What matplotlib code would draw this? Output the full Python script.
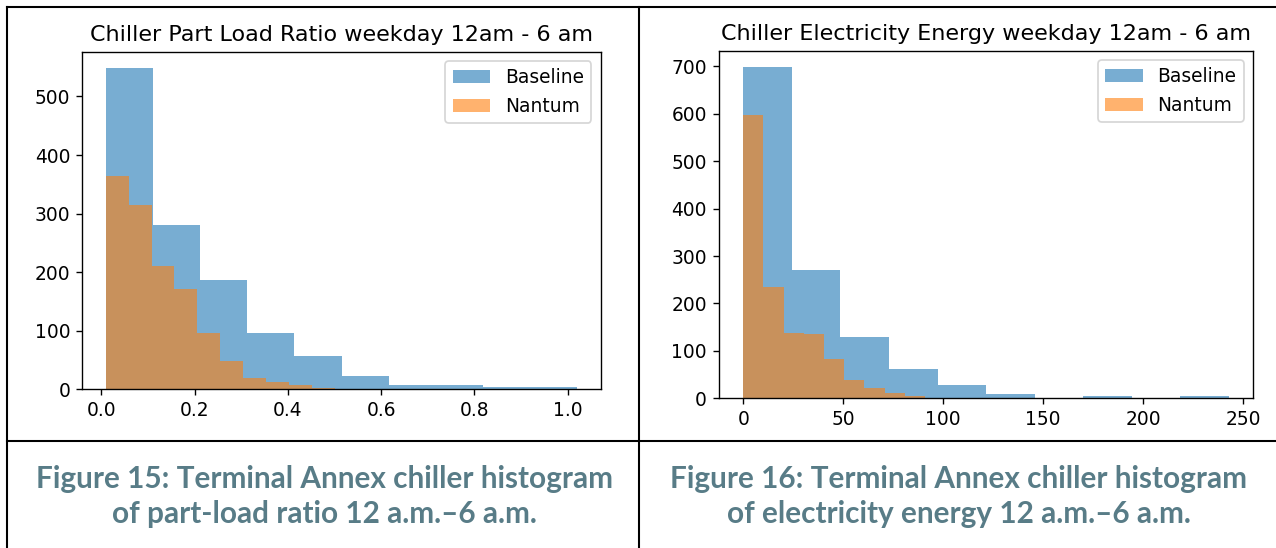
import numpy as np
import matplotlib
matplotlib.use("Agg")
import matplotlib.pyplot as plt
from matplotlib.lines import Line2D

# left panel: part load ratio histograms (bin edges + counts)
plr_base_edges = [0.01, 0.111, 0.212, 0.313, 0.414, 0.515, 0.616, 0.717, 0.818, 0.919, 1.02]
plr_base_counts = [549, 281, 186, 96, 57, 22, 7, 7, 4, 4]
plr_nant_edges = [0.01, 0.059, 0.108, 0.157, 0.206, 0.255, 0.304, 0.353, 0.402, 0.451, 0.50]
plr_nant_counts = [365, 315, 210, 172, 96, 48, 19, 13, 8, 3]

# right panel: electricity energy histograms
elec_base_edges = [0, 24.3, 48.6, 72.9, 97.2, 121.5, 145.8, 170.1, 194.4, 218.7, 243]
elec_base_counts = [698, 271, 129, 61, 28, 10, 0, 4, 0, 4]
elec_nant_edges = [0, 10.1, 20.2, 30.3, 40.4, 50.5, 60.6, 70.7, 80.8, 90.9, 101]
elec_nant_counts = [598, 234, 137, 136, 82, 39, 22, 11, 5, 1]

titles = ["Chiller Part Load Ratio weekday 12am - 6 am",
          "Chiller Electricity Energy weekday 12am - 6 am"]
captions = [["Figure 15: Terminal Annex chiller histogram",
             "of part-load ratio 12 a.m.\u20136 a.m."],
            ["Figure 16: Terminal Annex chiller histogram",
             "of electricity energy 12 a.m.\u20136 a.m."]]
series_names = ["Baseline", "Nantum"]

W, H = 1276, 548
DPI = 124
plt.rcParams["font.size"] = 10.8
fig = plt.figure(figsize=(W / DPI, H / DPI), dpi=DPI)


def px_axes(x0, y0, x1, y1):
    # pixel box (top-left origin) -> figure axes
    return fig.add_axes([x0 / W, 1 - y1 / H, (x1 - x0) / W, (y1 - y0) / H])


def hist_pair(ax, base_edges, base_counts, nant_edges, nant_counts):
    be = np.array(base_edges)
    ne = np.array(nant_edges)
    ax.hist((be[:-1] + be[1:]) / 2, bins=be, weights=base_counts,
            alpha=0.6, color="C0", label=series_names[0])
    ax.hist((ne[:-1] + ne[1:]) / 2, bins=ne, weights=nant_counts,
            alpha=0.6, color="C1", label=series_names[1])
    ax.legend(loc="upper right")


ax1 = px_axes(82.3, 51.7, 600.7, 389.3)
hist_pair(ax1, plr_base_edges, plr_base_counts, plr_nant_edges, plr_nant_counts)
ax1.set_title(titles[0])
ax1.set_yticks([0, 100, 200, 300, 400, 500])

ax2 = px_axes(719, 50.7, 1253.3, 398.3)
hist_pair(ax2, elec_base_edges, elec_base_counts, elec_nant_edges, elec_nant_counts)
ax2.set_title(titles[1])
ax2.set_yticks([0, 100, 200, 300, 400, 500, 600, 700])
ax2.set_xticks([0, 50, 100, 150, 200, 250])


# table borders of the document
def border(x0, y0, x1, y1):
    fig.add_artist(Line2D([x0 / W, x1 / W], [1 - y0 / H, 1 - y1 / H],
                          transform=fig.transFigure, color="black", lw=1.2))


border(7.3, 7.3, W, 7.3)
border(7.3, 441, W, 441)
border(7.3, 7.3, 7.3, H)
border(639, 7.3, 639, H)

# captions
cap_color = "#587c87"
for cx, lines in zip([324, 959], captions):
    for ybase, line in zip([488, 523], lines):
        fig.text(cx / W, 1 - ybase / H, line, ha="center", va="baseline",
                 fontsize=17.3, fontweight="bold", color=cap_color,
                 family=["Lato", "DejaVu Sans"])

fig.savefig("out.png", dpi=DPI)
